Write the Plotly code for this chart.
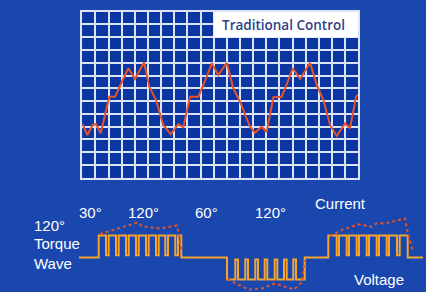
import plotly.graph_objects as go

# ---- top chart: "Traditional Control" current waveform (grid units) ----
current_x = [0.03, 0.38, 0.79, 1.04, 1.40, 2.06, 2.49, 2.87, 3.50, 4.01, 4.70, 5.10, 5.61, 6.16,
             6.73, 7.31, 7.69, 8.20, 8.83, 9.21, 9.85, 10.35, 10.99, 11.49, 12.00, 12.76, 13.14,
             13.65, 14.03, 14.54, 15.17, 15.50, 16.01, 16.57, 17.33, 17.84, 18.34, 18.85, 19.36,
             19.99, 20.37, 20.83, 21.0]
current_y = [4.20, 3.34, 4.13, 4.20, 3.48, 6.34, 6.34, 7.18, 8.57, 7.73, 9.04, 7.13, 6.08, 4.13,
             3.42, 4.20, 3.95, 6.34, 6.34, 7.26, 8.96, 8.04, 9.00, 7.00, 5.95, 3.99, 3.52,
             3.99, 3.58, 6.30, 6.34, 7.18, 8.57, 7.73, 9.00, 7.26, 6.08, 4.13, 3.27,
             4.26, 3.87, 6.34, 6.53]
grid_cols = 21
grid_rows = 13
title_text = "Traditional Control"

# ---- bottom diagram: 120° torque wave (diagram units, y grows downward) ----
wave_start = 79
wave_end = 423
level_base = 257.5
level_high = 235.5
level_high_dip = 255.3
level_low = 279.5
level_low_spike = 259.5

block1_edges = (98.7, 181.3)
block1_dips = [(106, 108.7), (116, 118.7), (126, 128.7), (136, 138.7), (146, 148.7),
               (156, 158.7), (165.3, 168), (175.3, 178)]
block2_edges = (227, 304.7)
block2_spikes = [(235.3, 238), (245.3, 248), (255.3, 258), (264.7, 267.3), (274.7, 277.3),
                 (284, 286.7), (293.3, 296)]
block3_edges = (328.3, 407.7)
block3_dips = [(336.7, 339), (346.7, 349), (356.7, 359), (366.7, 369), (376.7, 379),
               (386.7, 389), (397, 399.7)]

env1_x = [100, 115, 123, 138, 142, 160, 177, 179, 182]
env1_y = [234, 229, 227, 222.5, 226.5, 228.5, 225.5, 236, 252]
env2_x = [227.5, 238.7, 248.7, 262, 275, 282, 294, 302, 303.7, 304.7]
env2_y = [279, 285, 289.5, 288.5, 283.5, 285.5, 289.5, 282, 267, 260]
env3_x = [330, 341.7, 358.3, 371.7, 376.7, 386.7, 405, 408, 413.3]
env3_y = [236, 230, 224.3, 226.7, 223.5, 223, 218.5, 234, 252]

angle_labels = ["30°", "120°", "60°", "120°"]
angle_label_x = [90.5, 143, 206, 270.5]

BG = "#1a47ae"
CELL = "#0b36a2"
GRIDC = "#dbe3f4"
RED = "#e5532a"
ORANGE = "#f3a52c"


def build_block(edges, gaps, level, gap_level):
    xs, ys = [edges[0]], [level_base]
    xs.append(edges[0]); ys.append(level)
    for a, b in gaps:
        xs += [a, a, b, b]
        ys += [level, gap_level, gap_level, level]
    xs += [edges[1], edges[1]]
    ys += [level, level_base]
    return xs, ys


wx, wy = [wave_start], [level_base]
for e, g, lv, gl in [(block1_edges, block1_dips, level_high, level_high_dip),
                     (block2_edges, block2_spikes, level_low, level_low_spike),
                     (block3_edges, block3_dips, level_high, level_high_dip)]:
    bx, by = build_block(e, g, lv, gl)
    wx += bx; wy += by
wx.append(wave_end); wy.append(level_base)

fig = go.Figure()

fig.add_trace(go.Scatter(x=current_x, y=current_y, mode="lines",
                         line=dict(color=RED, width=2), xaxis="x", yaxis="y",
                         hoverinfo="skip", showlegend=False))

fig.add_trace(go.Scatter(x=wx, y=wy, mode="lines", line=dict(color=ORANGE, width=2),
                         xaxis="x2", yaxis="y2", hoverinfo="skip", showlegend=False))
for ex, ey in [(env1_x, env1_y), (env2_x, env2_y), (env3_x, env3_y)]:
    fig.add_trace(go.Scatter(x=ex, y=ey, mode="lines",
                             line=dict(color=RED, width=2, dash="dot"),
                             xaxis="x2", yaxis="y2", hoverinfo="skip", showlegend=False))

W, H = 426, 292
gx0, gx1 = 82.3, 358.3
gy0, gy1 = 11.7, 177.7

axis_common = dict(showticklabels=False, ticks="", zeroline=False, fixedrange=True)
fig.update_layout(
    width=W, height=H, margin=dict(l=0, r=0, t=0, b=0),
    paper_bgcolor=BG, plot_bgcolor="rgba(0,0,0,0)",
    xaxis=dict(domain=[gx0 / W, gx1 / W], range=[0, grid_cols], dtick=1, tick0=0,
               showgrid=True, gridcolor=GRIDC, gridwidth=2,
               showline=True, mirror=True, linecolor=GRIDC, linewidth=2, **axis_common),
    yaxis=dict(domain=[1 - gy1 / H, 1 - gy0 / H], range=[0, grid_rows], dtick=1, tick0=0,
               showgrid=True, gridcolor=GRIDC, gridwidth=2,
               showline=True, mirror=True, linecolor=GRIDC, linewidth=2, **axis_common),
    xaxis2=dict(domain=[0, 1], range=[0, W], visible=False, anchor="y2", fixedrange=True),
    yaxis2=dict(domain=[0, 1], range=[H, 0], visible=False, anchor="x2", fixedrange=True),
)

fig.add_shape(type="rect", xref="x", yref="y", x0=0, x1=grid_cols, y0=0, y1=grid_rows,
              fillcolor=CELL, line=dict(width=0), layer="below")
fig.add_shape(type="rect", xref="x", yref="y", x0=10, x1=grid_cols, y0=11, y1=grid_rows,
              fillcolor="#ffffff", line=dict(width=0), layer="above")
fig.add_annotation(x=15.3, y=11.96, xref="x", yref="y", text=title_text, showarrow=False,
                   font=dict(family="Open Sans", size=13.5, color="#2e3f86", weight=600))

lab_font = dict(family="Liberation Sans, Arial", size=15, color="#ffffff")
for t, x in zip(angle_labels, angle_label_x):
    fig.add_annotation(x=x, y=212, xref="x2", yref="y2", text=t, showarrow=False, font=lab_font)
fig.add_annotation(x=340, y=203, xref="x2", yref="y2", text="Current", showarrow=False, font=lab_font)
fig.add_annotation(x=379, y=279, xref="x2", yref="y2", text="Voltage", showarrow=False, font=lab_font)
fig.add_annotation(x=32, y=225, xref="x2", yref="y2", text="120°", showarrow=False,
                   xanchor="left", font=lab_font)
fig.add_annotation(x=32, y=243.5, xref="x2", yref="y2", text="Torque", showarrow=False,
                   xanchor="left", font=lab_font)
fig.add_annotation(x=32, y=263, xref="x2", yref="y2", text="Wave", showarrow=False,
                   xanchor="left", font=lab_font)

fig.write_html("out.html", config=dict(displayModeBar=False),
               post_script="document.body.style.margin='0';document.body.style.overflow='hidden';")
